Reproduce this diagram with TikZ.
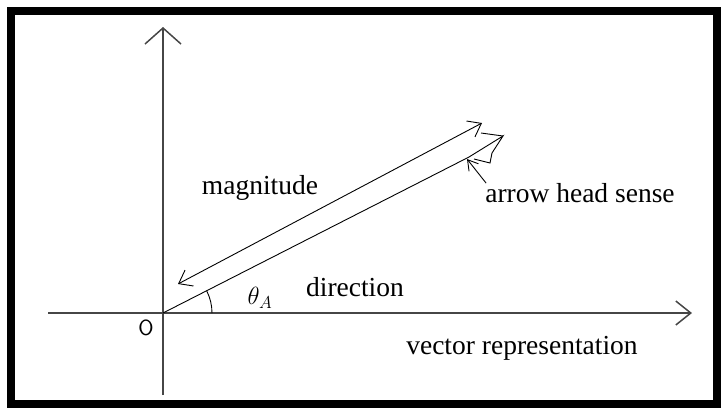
\documentclass[tikz,border=0pt]{standalone}
\usepackage{fontspec}
\setmainfont{Liberation Serif}
\definecolor{axisgray}{RGB}{70,70,70}
\usetikzlibrary{arrows.meta}

\begin{document}
\begin{tikzpicture}[x=1pt,y=-1pt,
        lbl/.style={font=\fontsize{27.5}{32}\selectfont,inner sep=0pt},
        axis/.style={axisgray,line width=1.5pt},
        vec/.style={black,line width=0.9pt}]

        \useasboundingbox (0,0) rectangle (721,410);
        \draw[line width=8pt] (11,11) rectangle (717,404);

        \coordinate (o)      at (163,313);
        \coordinate (ytop)   at (163,27);
        \coordinate (ybot)   at (163,395);
        \coordinate (xleft)  at (48,313);
        \coordinate (xright) at (692,313);
        \coordinate (tip)    at (469,157);
        \coordinate (m1)     at (178,284);
        \coordinate (m2)     at (482,123);
        \coordinate (ptr)    at (467,159);

        \draw[axis,-{Straight Barb[length=16pt,width=36pt]}] (ybot)--(ytop);
        \draw[axis,-{Straight Barb[length=15pt,width=24pt]}] (xleft)--(xright);

        \draw[vec] (o)--(tip);
        \draw[vec] (tip)--(503,136)--(492,153)--(490,163)--(474,159);
        \draw[vec] (481,133)--(503,136);
        \draw[vec,{Straight Barb[length=12pt,width=18pt]}-{Straight Barb[length=12pt,width=18pt]}] (m1)--(m2);

        \draw[vec] (o) ++(-27:49) arc[start angle=-27,end angle=0,radius=49];

        \node[font=\fontsize{22}{24}\selectfont\sffamily] (olbl) at (146,328) {O};
        \node[font=\fontsize{26}{30}\selectfont] (theta) at (260,298) {$\theta_A$};
        \node[lbl] (mag)    at (260,188) {magnitude};
        \node[lbl] (sense)  at (580,193) {arrow head sense};
        \node[lbl] (dir)    at (355,287) {direction};
        \node[lbl] (vecrep) at (522,348) {vector representation};

        \draw[vec,-{Straight Barb[length=10pt,width=12pt]}] ([xshift=1pt]sense.north west)--(ptr);

    \end{tikzpicture}
\end{document}
